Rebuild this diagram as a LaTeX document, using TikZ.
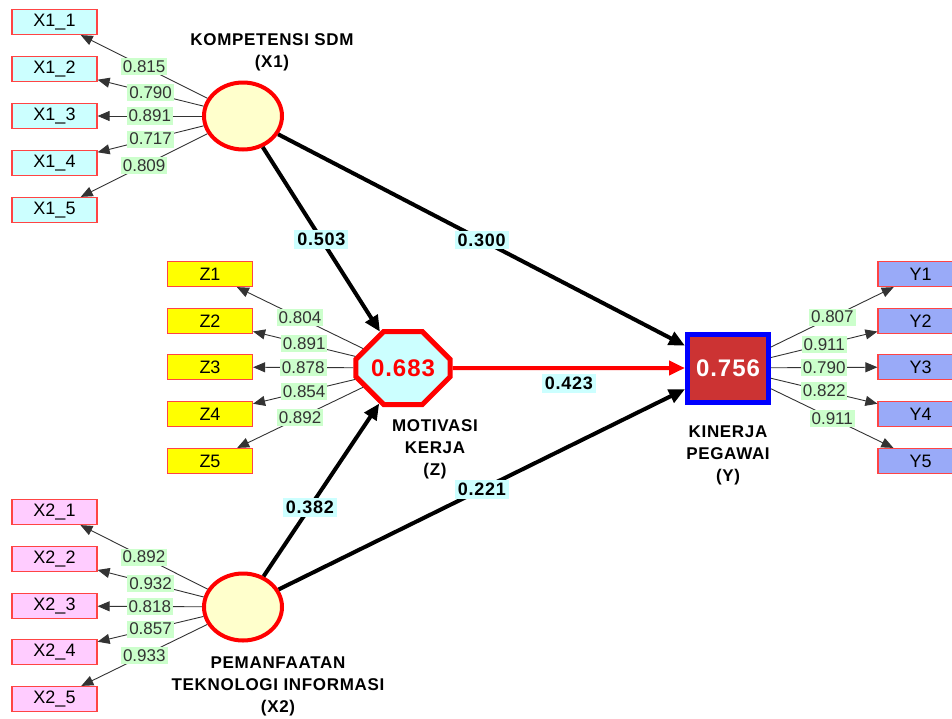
\documentclass[tikz,border=0pt]{standalone}
\usepackage{fontspec}
\setmainfont{Liberation Sans}
\newfontfamily\spacedfont[LetterSpace=4]{Liberation Sans}
\usepackage[dvipsnames]{xcolor}
\usetikzlibrary{arrows.meta,shapes.geometric,shapes.misc}

\definecolor{indcyan}{HTML}{CCFFFF}
\definecolor{indpink}{HTML}{FFCCFF}
\definecolor{indyellow}{HTML}{FFFF00}
\definecolor{indblue}{HTML}{99AAF8}
\definecolor{boxred}{HTML}{FF4444}
\definecolor{loadgreen}{HTML}{CCFFCC}
\definecolor{latcream}{HTML}{FFFFCC}
\definecolor{kinred}{HTML}{CC3333}

\tikzset{
  indicator/.style={draw=boxred, line width=1.2pt, minimum width=85pt, minimum height=25pt,
    inner sep=0pt, font=\fontsize{18}{18}\selectfont},
  loading/.style={fill=loadgreen, inner xsep=2pt, inner ysep=2.5pt, text=black!80,
    font=\fontsize{17}{17}\selectfont},
  pathcoef/.style={fill=indcyan, inner xsep=3pt, inner ysep=3pt, font=\spacedfont\bfseries\fontsize{18}{18}\selectfont},
  loadarrow/.style={draw=black!80, line width=0.9pt, -{Triangle[length=12pt,width=10pt]}},
  patharrow/.style={line width=4pt, -{Triangle[length=16pt,width=14pt]}},
  latname/.style={font=\spacedfont\bfseries\fontsize{17}{22}\selectfont, align=center},
}

\begin{document}
\begin{tikzpicture}[x=1pt, y=-1pt]
  \useasboundingbox (0,0) rectangle (952,718);
  \clip (0,0) rectangle (952,718);

  % latent variables
  \node[ellipse, draw=red, line width=4pt, fill=latcream, minimum width=78pt, minimum height=67pt] (X1) at (243,116) {};
  \node[ellipse, draw=red, line width=4pt, fill=latcream, minimum width=78pt, minimum height=67pt] (X2) at (243,607) {};
  \node[chamfered rectangle, chamfered rectangle xsep=20pt, chamfered rectangle ysep=16pt,
        draw=red, line width=5pt, fill=indcyan, minimum width=88pt, minimum height=73pt,
        text=red, font=\spacedfont\bfseries\fontsize{24}{24}\selectfont] (Z) at (403,368) {0.683};
  \node[draw=blue, line width=5pt, fill=kinred, minimum width=81pt, minimum height=68pt,
        text=white, font=\spacedfont\bfseries\fontsize{24}{24}\selectfont] (Y) at (728,368) {0.756};

  % latent names
  \node[latname] (nX1) at (272,52) {KOMPETENSI SDM\\(X1)};
  \node[latname] (nZ) at (435,449) {MOTIVASI\\KERJA\\(Z)};
  \node[latname] (nY) at (728,455) {KINERJA\\PEGAWAI\\(Y)};
  \node[latname] (nX2) at (278,686) {PEMANFAATAN\\TEKNOLOGI INFORMASI\\(X2)};

  % indicators of X1
  \foreach \i/\yy/\val in {1/22/0.815, 2/69/0.790, 3/116/0.891, 4/163/0.717, 5/210/0.809} {
      \node[indicator, fill=indcyan] (x1\i) at (54.5,\yy) {X1\_\i};
      \draw[loadarrow] (X1) -- (x1\i) node[loading, midway] {\val};
  }

  % indicators of Z
  \foreach \i/\yy/\val in {1/274/0.804, 2/321/0.891, 3/367/0.878, 4/414/0.854, 5/461/0.892} {
      \node[indicator, fill=indyellow] (z\i) at (210,\yy) {Z\i};
      \draw[loadarrow] (Z) -- (z\i) node[loading, midway] {\val};
  }

  % indicators of X2
  \foreach \i/\yy/\val in {1/512/0.892, 2/559/0.932, 3/606/0.818, 4/652/0.857, 5/699/0.933} {
      \node[indicator, fill=indpink] (x2\i) at (54.5,\yy) {X2\_\i};
      \draw[loadarrow] (X2) -- (x2\i) node[loading, midway] {\val};
  }

  % indicators of Y
  \foreach \i/\yy/\val in {1/274/0.807, 2/321/0.911, 3/367/0.790, 4/414/0.822, 5/461/0.911} {
      \node[indicator, fill=indblue] (y\i) at (920.5,\yy) {Y\i};
      \draw[loadarrow] (Y) -- (y\i) node[loading, midway] {\val};
  }

  % structural paths
  \draw[patharrow] (X1) -- (Z) node[pathcoef, midway] {0.503};
  \draw[patharrow] (X1) -- (Y) node[pathcoef, midway] {0.300};
  \draw[patharrow] (X2) -- (Z) node[pathcoef, pos=0.4] {0.382};
  \draw[patharrow] (X2) -- (Y) node[pathcoef, midway] {0.221};
  \draw[patharrow, red] (Z) -- (Y) node[pathcoef, text=black, midway, below=4pt] {0.423};

\end{tikzpicture}
\end{document}
